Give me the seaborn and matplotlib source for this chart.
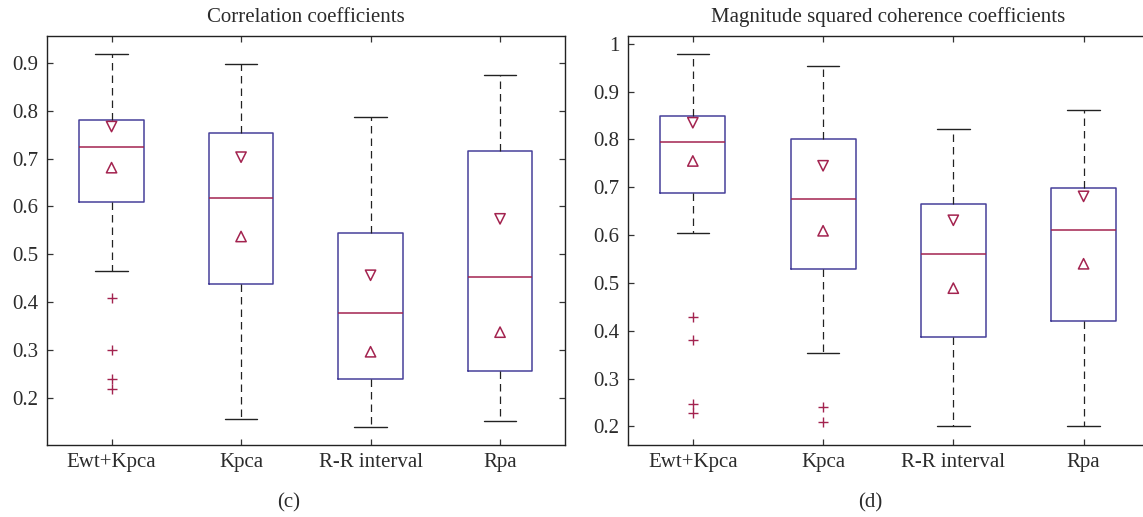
import numpy as np
import pandas as pd
import seaborn as sns
import matplotlib.pyplot as plt

# Группы (общие для обоих графиков)
groups = ['Ewt+Kpca', 'Kpca', 'R-R interval', 'Rpa']

# (c) Correlation coefficients
corr_whislo = [0.465, 0.156, 0.139, 0.152]
corr_q1 = [0.610, 0.438, 0.239, 0.256]
corr_med = [0.725, 0.618, 0.377, 0.453]
corr_q3 = [0.781, 0.754, 0.545, 0.715]
corr_whishi = [0.918, 0.898, 0.787, 0.874]
corr_notch_lo = [0.681, 0.537, 0.296, 0.337]
corr_notch_hi = [0.767, 0.703, 0.456, 0.574]
corr_fliers = [[0.408, 0.299, 0.240, 0.218], [], [], []]

# (d) Magnitude squared coherence coefficients
msc_whislo = [0.605, 0.353, 0.200, 0.201]
msc_q1 = [0.689, 0.530, 0.387, 0.421]
msc_med = [0.795, 0.676, 0.561, 0.610]
msc_q3 = [0.850, 0.800, 0.666, 0.699]
msc_whishi = [0.978, 0.953, 0.821, 0.862]
msc_notch_lo = [0.755, 0.609, 0.489, 0.540]
msc_notch_hi = [0.835, 0.745, 0.631, 0.681]
msc_fliers = [[0.429, 0.380, 0.247, 0.227], [0.240, 0.210], [], []]

BOX = '#46409a'
RED = '#a3234f'
TXT = '#2b2b2b'
FS = 15

sns.set_theme(style='white')
plt.rcParams['font.family'] = ['Liberation Serif', 'DejaVu Serif']


def draw(ax, title, whislo, q1, med, q3, whishi, nlo, nhi, fliers, ylim, yticks):
    pos = np.arange(1, len(groups) + 1)
    stats = [dict(whislo=a, q1=b, med=c, q3=d, whishi=e, fliers=[])
             for a, b, c, d, e in zip(whislo, q1, med, q3, whishi)]
    ax.bxp(stats, positions=pos, widths=0.5, showfliers=False,
           boxprops=dict(color=BOX, lw=1.1),
           medianprops=dict(color=RED, lw=1.1),
           whiskerprops=dict(color='#222222', ls=(0, (6, 4)), lw=0.9),
           capprops=dict(color='#222222', lw=1.0))
    # маркеры выемок (треугольники)
    sns.scatterplot(x=pos, y=nhi, ax=ax, marker='v', s=55, color='none',
                    edgecolor=RED, linewidth=1.1, zorder=3)
    sns.scatterplot(x=pos, y=nlo, ax=ax, marker='^', s=55, color='none',
                    edgecolor=RED, linewidth=1.1, zorder=3)
    # выбросы
    fx = [p for p, f in zip(pos, fliers) for _ in f]
    fy = [v for f in fliers for v in f]
    sns.scatterplot(x=fx, y=fy, ax=ax, marker='+', s=50, color=RED,
                    linewidth=1.0, zorder=3)

    ax.set_xlim(0.5, 4.5)
    ax.set_ylim(*ylim)
    ax.set_xticks(pos)
    ax.set_xticklabels(groups)
    ax.set_yticks(yticks)
    ax.set_yticklabels([f'{v:g}' for v in yticks])
    ax.tick_params(direction='in', length=4, width=0.9, color='#333333',
                   top=True, right=True, bottom=True, left=True,
                   labelsize=FS, labelcolor=TXT, pad=6)
    for s in ax.spines.values():
        s.set_visible(True)
        s.set_color('#222222')
        s.set_linewidth(1.0)
    ax.grid(False)
    ax.set_title(title, fontsize=FS, color=TXT, pad=10)


fig = plt.figure(figsize=(11.43, 5.17), dpi=100)
bottom = 1 - 445 / 517
height = (445 - 35.7) / 517
ax1 = fig.add_axes([46.8 / 1143, bottom, 518 / 1143, height])
ax2 = fig.add_axes([627.7 / 1143, bottom, 521 / 1143, height])

draw(ax1, 'Correlation coefficients', corr_whislo, corr_q1, corr_med, corr_q3,
     corr_whishi, corr_notch_lo, corr_notch_hi, corr_fliers,
     (0.101, 0.957), [0.2, 0.3, 0.4, 0.5, 0.6, 0.7, 0.8, 0.9])
draw(ax2, 'Magnitude squared coherence coefficients', msc_whislo, msc_q1, msc_med,
     msc_q3, msc_whishi, msc_notch_lo, msc_notch_hi, msc_fliers,
     (0.161, 1.017), [0.2, 0.3, 0.4, 0.5, 0.6, 0.7, 0.8, 0.9, 1.0])

fig.text(289 / 1143, 1 - 503 / 517, '(c)', ha='center', va='center', fontsize=FS, color=TXT)
fig.text(870 / 1143, 1 - 503 / 517, '(d)', ha='center', va='center', fontsize=FS, color=TXT)

fig.savefig('out.png', dpi=100)
